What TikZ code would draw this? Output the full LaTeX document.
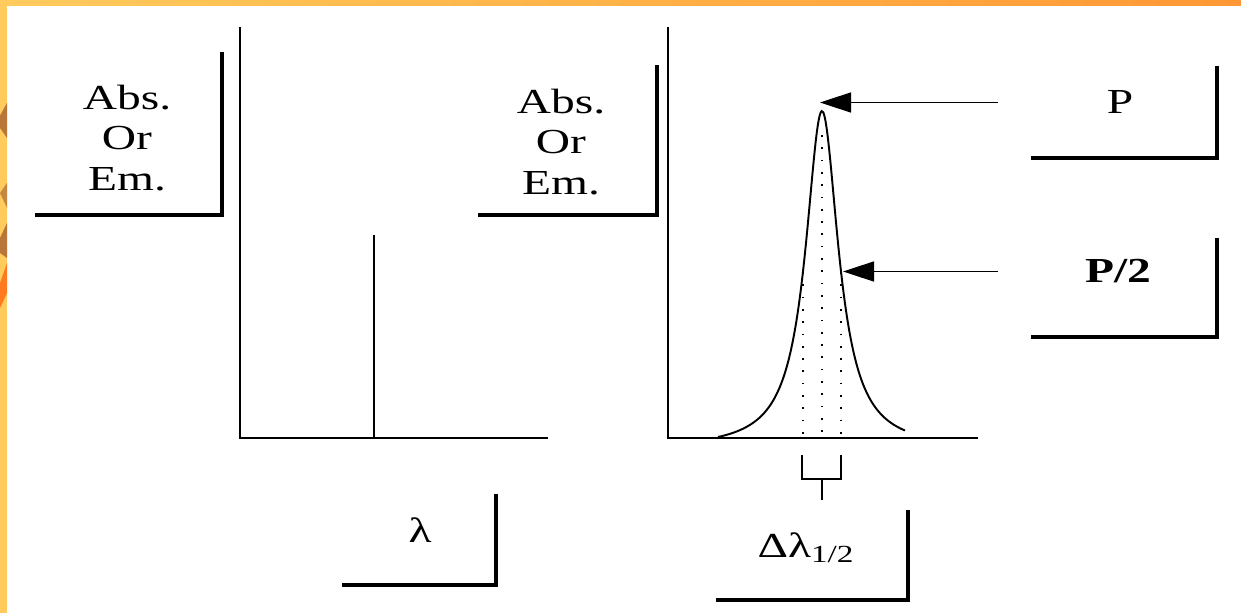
\documentclass[tikz,border=0pt]{standalone}
\usepackage{fontspec}
\setmainfont{Liberation Serif}[FakeStretch=1.35]
\usetikzlibrary{arrows.meta, positioning, calc}
\definecolor{stripA}{HTML}{FFCB5C}
\definecolor{stripB}{HTML}{FF9834}
\definecolor{spotA}{HTML}{B8763A}
\definecolor{spotB}{HTML}{FF7A1E}
\tikzset{
    tag/.style={font=\fontsize{20}{23}\selectfont, align=center, inner sep=0pt},
    corner/.style={line width=2.8pt},
    axis/.style={line width=1.4pt},
    pointer/.style={line width=0.9pt, -{Triangle[length=0.62cm, width=0.4cm]}},
    guide/.style={line width=1pt, dash pattern=on 1pt off 6pt},
}

\begin{document}
\begin{tikzpicture}
    \useasboundingbox (0,0) rectangle (24.82,12.26);

    % slide frame
    \shade[left color=stripA, right color=stripB] (0,12.14) rectangle (24.82,12.26);
    \fill[stripA] (0,0) rectangle (0.14,12.14);
    \fill[spotA] (0,9.95) -- (0.14,10.2) -- (0.14,9.5) -- (0,9.7) -- cycle;
    \fill[spotA!80!stripA] (0,8.4) -- (0.14,8.6) -- (0.14,8.1) -- cycle;
    \fill[spotA] (0,7.5) -- (0.14,7.8) -- (0.14,7.1) -- (0,7.2) -- cycle;
    \fill[spotB] (0,6.6) -- (0.14,7.0) -- (0.14,6.4) -- (0,6.1) -- cycle;

    % line spectrum
    \node[tag] (absl) at (2.54,9.5) {Abs.\\Or\\Em.};
    \draw[corner] (4.44,11.22) |- (0.70,7.96);
    \coordinate (ol) at (4.80,3.50);
    \draw[axis] (4.80,11.72) -- (ol) -- (10.96,3.50);
    \draw[line width=1.2pt] (7.48,3.50) -- (7.48,7.56);

    \node[tag] (lam) at (8.40,1.66) {λ};
    \draw[corner] (9.92,2.38) |- (6.84,0.56);

    % band spectrum
    \node[tag] (absr) at (11.22,9.42) {Abs.\\Or\\Em.};
    \draw[corner] (13.14,10.96) |- (9.56,7.96);
    \coordinate (or) at (13.36,3.50);
    \draw[axis] (13.36,11.72) -- (or) -- (19.56,3.50);

    \draw[line width=1.1pt, smooth, samples=120, domain=14.36:18.10]
        plot (\x, {3.52 + 6.52*(1/(1+((\x-16.44)/0.4)^2) - 0.0357)/0.9643});

    \draw[guide] (16.44,9.56) -- (16.44,3.55);
    \draw[guide] (16.06,6.82) -- (16.06,3.55);
    \draw[guide] (16.82,6.82) -- (16.82,3.55);

    % half width bracket
    \draw[line width=1pt] (16.04,3.16) -- (16.04,2.68) -- (16.82,2.68) -- (16.82,3.16);
    \draw[line width=1.6pt] (16.44,2.68) -- (16.44,2.26);

    \node[tag] (dlam) at (16.12,1.30) {Δλ\textsubscript{1/2}};
    \draw[corner] (18.16,2.06) |- (14.32,0.26);

    % peak markers
    \coordinate (top) at (16.40,10.21);
    \coordinate (half) at (16.86,6.83);
    \coordinate (pfrom) at (19.96,10.21);
    \coordinate (hfrom) at (19.96,6.83);
    \draw[pointer] (pfrom) -- (top);
    \draw[pointer] (hfrom) -- (half);

    \node[tag] (pk) at (22.40,10.22) {P};
    \draw[corner] (24.34,10.94) |- (20.62,9.10);
    \node[tag, font=\fontsize{20}{23}\selectfont\bfseries] (phalf) at (22.36,6.84) {P/2};
    \draw[corner] (24.34,7.50) |- (20.62,5.52);
\end{tikzpicture}
\end{document}
